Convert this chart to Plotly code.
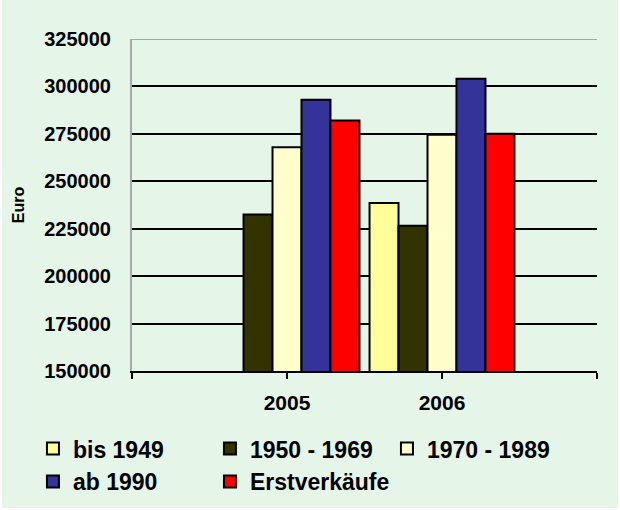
import plotly.graph_objects as go

years = ["2005", "2006"]
x_pos = [1, 2]
series_names = ["bis 1949", "1950 - 1969", "1970 - 1989", "ab 1990", "Erstverkäufe"]
bis_1949 = [None, 238500]
s_1950_1969 = [232500, 226500]
s_1970_1989 = [268000, 274500]
ab_1990 = [293000, 304000]
erstverkaeufe = [282000, 275000]
series_values = [bis_1949, s_1950_1969, s_1970_1989, ab_1990, erstverkaeufe]
colors = ["#FFFF99", "#333300", "#FFFFCC", "#333399", "#FF0000"]

y_ticks = [150000, 175000, 200000, 225000, 250000, 275000, 300000, 325000]
minor_ticks = list(range(150000, 325001, 5000))

BG = "#E5F5E8"
FONT = "Liberation Sans, Arial, sans-serif"

fig = go.Figure()
for name, vals, col in zip(series_names, series_values, colors):
    fig.add_trace(go.Bar(
        x=x_pos, y=vals, name=name,
        marker=dict(color=col, line=dict(color="black", width=2)),
    ))

fig.update_layout(
    width=620, height=510,
    margin=dict(l=132, r=23, t=39, b=139, autoexpand=False),
    paper_bgcolor=BG, plot_bgcolor=BG,
    barmode="group", bargap=0.065, bargroupgap=0,
    font=dict(family=FONT, color="black"),
    xaxis=dict(
        range=[0, 3], tickvals=[0, 1, 2, 3], ticktext=["", years[0], years[1], ""],
        showline=True, linecolor="black", linewidth=2,
        ticks="outside", ticklen=6, tickwidth=2, tickcolor="black",
        showgrid=False, zeroline=False, ticklabelstandoff=6,
        tickfont=dict(family=FONT, size=21, color="black", weight="bold"),
    ),
    yaxis=dict(
        range=[150000, 325000], tickvals=y_ticks, ticktext=[str(v) for v in y_ticks],
        showline=True, linecolor="#A8A8A8", linewidth=2,
        showgrid=True, gridcolor="black", gridwidth=2,
        ticks="", zeroline=False, ticklabelstandoff=15,
        tickfont=dict(family=FONT, size=20, color="black", weight="bold"),
        title=dict(text="Euro", font=dict(family=FONT, size=16, color="black", weight="bold"), standoff=16),
    ),
    yaxis2=dict(
        overlaying="y", side="right", anchor="x",
        range=[150000, 325000], tickvals=minor_ticks,
        showticklabels=False, showline=True, linecolor="black", linewidth=2,
        ticks="inside", ticklen=5, tickwidth=2, tickcolor="black",
        showgrid=False, zeroline=False,
    ),
    legend=dict(
        orientation="h", x=-0.213, xanchor="left", y=-0.169, yanchor="top",
        entrywidth=132, entrywidthmode="pixels",
        font=dict(family=FONT, size=23, color="black", weight="bold"),
        bgcolor="rgba(0,0,0,0)", traceorder="normal",
    ),
    showlegend=True,
    shapes=[
        dict(type="line", xref="paper", yref="y", x0=0, x1=1, y0=325000, y1=325000,
             line=dict(color="#A8A8A8", width=2), layer="above"),
        dict(type="rect", xref="paper", yref="paper",
             x0=-132 / 465, x1=488 / 465, y0=-139 / 332, y1=471 / 332,
             line=dict(color="white", width=4), layer="above"),
    ],
)

fig.write_html(
    "out.html",
    config={"displayModeBar": False},
    post_script=(
        "document.documentElement.style.margin='0';"
        "document.body.style.margin='0';"
        "document.body.style.height='510px';"
        "document.body.style.overflow='hidden';"
        "document.documentElement.style.overflow='hidden';"
    ),
)
